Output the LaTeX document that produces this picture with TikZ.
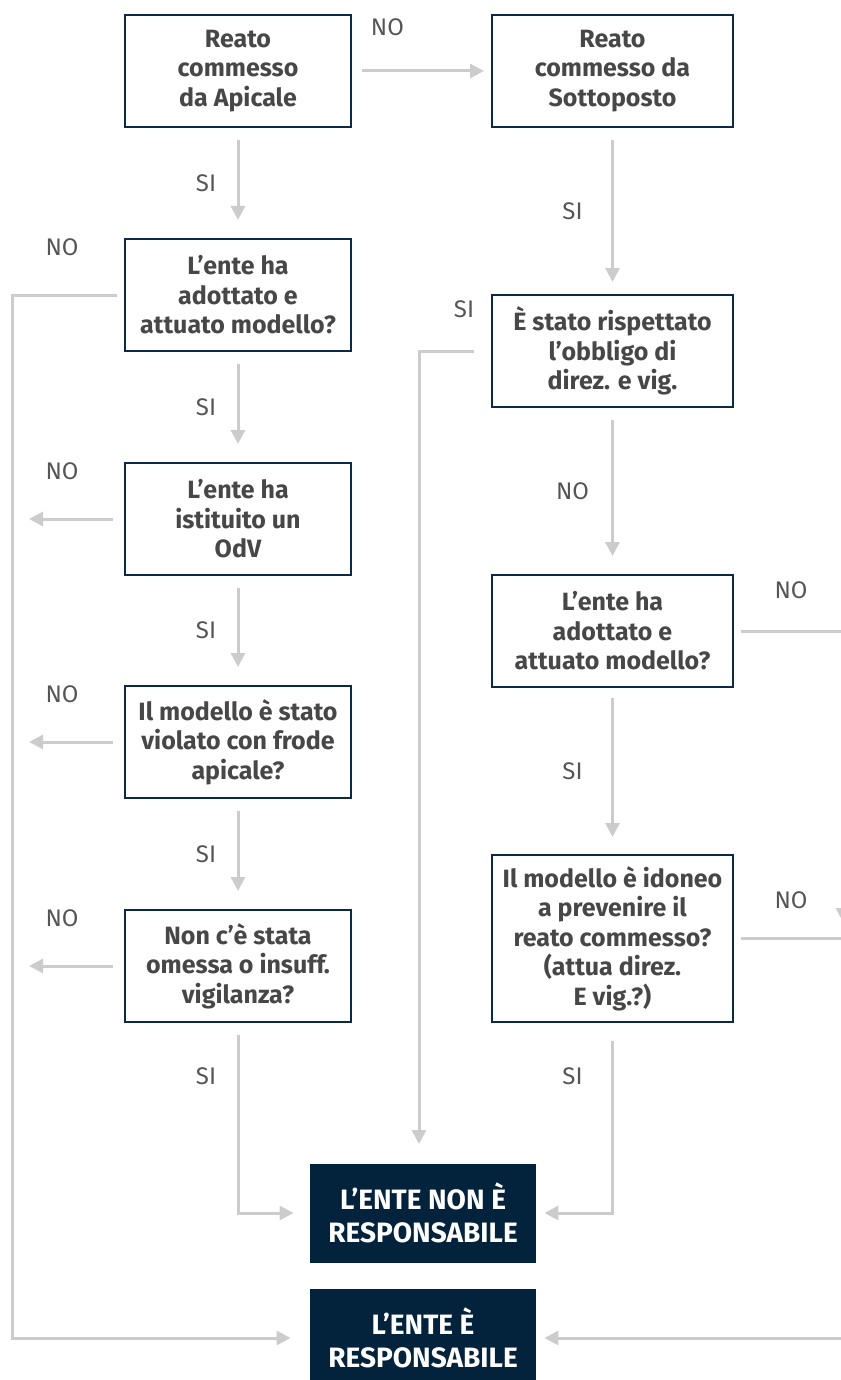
\documentclass[tikz,border=0pt]{standalone}
\usepackage{fontspec}
\setmainfont{Fira Sans}
\usetikzlibrary{arrows.meta}

\definecolor{blunotte}{HTML}{0C2A45}
\definecolor{bluesito}{HTML}{03223B}
\definecolor{grigiolinea}{HTML}{CCCCCC}
\definecolor{grigiotesto}{HTML}{474747}
\definecolor{grigioetich}{HTML}{555555}

\begin{document}
\begin{tikzpicture}[x=0.5pt, y=-0.5pt]
  % Define box, arrow and label styles
  \tikzstyle{boxdomanda} = [draw=blunotte, line width=1pt, fill=white,
  rectangle, text=grigiotesto, align=center, inner sep=2pt,
  font=\bfseries\fontsize{12.5}{14.75}\selectfont,
  minimum width=113pt, minimum height=56pt]
  \tikzstyle{boxdomandadx} = [boxdomanda, minimum width=120.5pt]
  \tikzstyle{boxesito} = [fill=bluesito, text=white, align=center,
  font=\bfseries\fontsize{14}{16.5}\selectfont,
  minimum width=113pt, minimum height=49.5pt]
  \tikzstyle{freccia} = [draw=grigiolinea, line width=1.5pt,
  -{Triangle[length=7pt,width=7pt]}]
  \tikzstyle{etichetta} = [text=grigioetich, inner sep=0pt,
  font=\fontsize{12}{14}\selectfont]

  \useasboundingbox (0,0) rectangle (840,1380);

  % colonna apicale
  \node[boxdomanda] (apicale) at (238,71) {Reato\\commesso\\da Apicale};
  \node[boxdomanda] (adottato) at (238,295) {L’ente ha\\adottato e\\attuato modello?};
  \node[boxdomanda] (odv) at (238,519) {L’ente ha\\istituito un\\OdV};
  \node[boxdomanda] (frode) at (238,742) {Il modello è stato\\violato con frode\\apicale?};
  \node[boxdomanda] (vigilanza) at (238,966) {Non c’è stata\\omessa o insuff.\\vigilanza?};

  % colonna sottoposto
  \node[boxdomandadx] (sottoposto) at (612.5,71) {Reato\\commesso da\\Sottoposto};
  \node[boxdomandadx] (rispettato) at (612.5,351) {È stato rispettato\\l’obbligo di\\direz. e vig.};
  \node[boxdomandadx] (modellodx) at (612.5,631) {L’ente ha\\adottato e\\attuato modello?};
  \node[boxdomandadx, minimum height=83.5pt] (idoneo) at (612.5,938.5)
  {Il modello è idoneo\\a prevenire il\\reato commesso?\\(attua direz.\\E vig.?)};

  % esiti
  \node[boxesito] (nonresp) at (423,1213) {L’ENTE NON È\\RESPONSABILE};
  \node[boxesito] (resp) at (423,1338) {L’ENTE È\\RESPONSABILE};

  \coordinate (fuori) at (29,0);
  \coordinate (binario) at (12,0);
  \coordinate (binariomedio) at (419,0);
  \coordinate (binariodx) at (843,0);
  \coordinate (puntadx) at (843,922);

  % frecce SI
  \foreach \a/\b in {apicale/adottato, adottato/odv, odv/frode, frode/vigilanza}
    \draw[freccia, shorten <=6pt, shorten >=9pt] (\a) -- (\b)
      node[etichetta, midway, xshift=-16pt] {SI};
  \draw[freccia, shorten <=6pt, shorten >=6pt] (sottoposto) -- (rispettato)
    node[etichetta, midway, xshift=-20pt] {SI};
  \draw[freccia, shorten <=6pt, shorten >=9pt] (rispettato) -- (modellodx)
    node[etichetta, midway, xshift=-20pt] {NO};
  \draw[freccia, shorten <=5pt, shorten >=8.5pt] (modellodx) -- (idoneo)
    node[etichetta, midway, xshift=-20pt] {SI};

  % frecce NO a sinistra
  \foreach \n in {odv, frode, vigilanza}
    \draw[freccia, shorten <=5.5pt] (\n.west) -- (\n.west -| fuori);
  \foreach \n in {adottato, odv, frode, vigilanza}
    \node[etichetta] at ([xshift=-31pt, yshift=-4.5pt]\n.north west) {NO};

  \draw[freccia, shorten <=5pt, shorten >=3.5pt] (apicale) -- (sottoposto)
    node[etichetta, pos=0.255, yshift=22pt] {NO};
  \draw[freccia, shorten <=3.5pt, shorten >=9.5pt] (adottato.west)
    -- (adottato.west -| binario) |- (resp.west);

  % verso gli esiti
  \draw[freccia, shorten <=8.5pt, shorten >=9.5pt] (rispettato.west)
    -- (rispettato.west -| binariomedio) -- (binariomedio |- nonresp.north);
  \node[etichetta] at ([xshift=-13.5pt, yshift=21pt]rispettato.west) {SI};
  \draw[freccia, shorten <=6pt, shorten >=8pt] (vigilanza) |- (nonresp)
    node[etichetta, pos=0.14, xshift=-16pt] {SI};
  \draw[freccia, shorten <=9pt, shorten >=4pt] (idoneo) |- (nonresp)
    node[etichetta, pos=0.14, xshift=-20pt] {SI};

  \draw[freccia, shorten <=3.5pt] (modellodx.east) -| (puntadx);
  \node[etichetta] at ([xshift=28.5pt, yshift=20.5pt]modellodx.east) {NO};
  \draw[freccia, shorten <=3.5pt, shorten >=4pt] (idoneo.east)
    -- (idoneo.east -| binariodx) |- (resp.east);
  \node[etichetta] at ([xshift=28.5pt, yshift=19.25pt]idoneo.east) {NO};
\end{tikzpicture}
\end{document}
